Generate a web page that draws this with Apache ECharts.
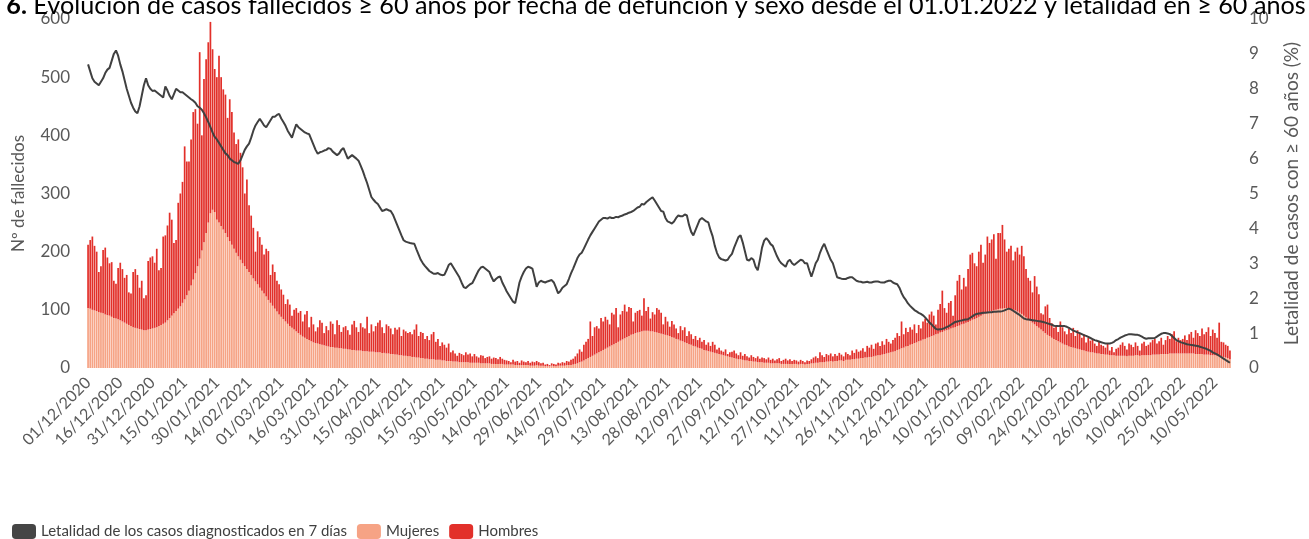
<!DOCTYPE html>
<html>
<head>
<meta charset="utf-8">
<script src="https://cdn.jsdelivr.net/npm/echarts@6/dist/echarts.min.js"></script>
<style>
  html, body { margin: 0; padding: 0; background: #fff; }
  #chart { width: 1309px; height: 539px; }
</style>
</head>
<body>
<div id="chart"></div>
<script>
// daily deaths >= 60 years, women (bottom of the stack)
var mujeres = [
  103,102,100,99,98,96,95,94,92,91,90,88,86,85,84,
  82,80,78,76,74,72,70,69,68,67,66,65,65,66,67,
  68,69,70,72,74,76,78,82,86,90,94,98,102,106,112,
  118,125,133,142,152,163,175,188,202,216,232,250,266,272,268,
  255,250,244,238,232,225,218,212,205,198,192,186,180,175,170,
  165,160,154,149,144,138,133,128,123,117,112,107,102,97,92,
  88,84,80,76,72,69,66,63,60,57,54,52,50,48,46,
  44,43,42,41,40,39,38,37,36,36,35,35,34,34,33,
  33,32,32,31,31,30,30,30,29,29,29,28,28,28,27,
  27,27,26,26,25,25,24,24,23,23,22,22,21,21,20,
  20,19,19,18,18,17,17,16,16,15,15,15,14,14,14,
  13,13,12,12,12,11,11,11,10,10,10,10,10,9,9,
  9,9,9,8,8,8,8,8,7,7,7,7,7,7,6,
  6,6,6,6,5,5,5,5,5,5,5,4,4,4,5,
  4,4,4,3,3,3,4,3,3,4,4,4,4,5,5,
  5,6,7,8,10,11,13,15,17,19,21,23,25,27,29,
  31,33,35,37,39,41,43,45,47,49,51,53,55,57,58,
  60,61,62,63,64,64,64,63,63,62,61,60,59,58,57,
  56,55,53,52,50,49,47,46,44,43,41,40,38,37,35,
  34,33,31,30,29,28,27,26,25,24,23,22,21,20,19,
  18,17,16,15,15,14,13,13,12,12,11,11,10,10,10,
  9,9,9,8,8,8,8,8,7,7,7,7,7,7,7,
  7,6,7,7,6,7,7,8,8,9,9,10,10,10,11,
  11,12,11,12,12,13,13,12,14,14,14,15,15,16,16,
  17,17,18,18,19,19,20,21,22,22,23,24,25,26,27,
  28,29,31,32,34,35,37,38,40,41,43,44,46,47,49,
  50,52,53,55,56,58,59,61,62,64,65,66,68,69,70,
  72,73,75,76,78,79,81,83,84,86,88,90,92,94,96,
  97,98,99,100,101,102,102,103,103,102,101,100,99,97,95,
  93,90,87,84,81,78,75,72,69,66,63,60,57,55,52,
  50,48,46,44,42,40,39,37,36,35,34,33,32,31,30,
  29,28,27,27,26,25,25,24,24,23,23,22,22,22,21,
  21,21,21,21,20,21,21,21,22,22,21,22,22,22,22,
  22,23,23,23,23,24,24,24,24,25,25,25,25,25,25,
  25,25,25,25,25,25,24,24,24,24,23,23,23,22,22,
  22,21,20,20,19,18,17,15
];

// daily deaths >= 60 years, men (stacked on top)
var hombres = [
  109,118,126,111,102,69,80,109,115,99,90,94,64,60,88,
  99,90,77,84,56,56,95,101,92,71,84,55,60,118,123,
  124,112,135,96,98,150,150,163,181,165,121,122,182,194,208,
  263,230,222,251,288,282,245,355,198,281,299,310,329,276,246,
  245,287,256,241,238,205,244,228,200,187,201,184,165,125,154,
  115,102,87,51,91,87,79,67,82,84,48,71,63,53,52,
  47,42,30,42,37,21,34,40,35,41,26,40,48,22,42,
  31,20,28,41,38,21,34,28,44,40,23,47,40,28,37,
  39,33,25,44,50,40,32,47,41,39,59,32,47,35,45,
  51,55,44,34,50,47,44,34,46,43,48,33,45,42,40,
  42,39,47,57,37,45,43,34,39,33,43,47,31,36,24,
  31,27,23,30,15,19,14,10,16,14,12,17,13,16,11,
  15,11,9,14,13,9,11,12,9,11,10,8,12,9,8,
  7,6,4,8,6,7,4,8,6,5,7,5,7,6,7,
  6,4,5,3,4,2,4,4,3,5,4,6,5,7,6,
  9,10,13,17,22,17,27,30,33,61,34,47,47,41,57,
  49,55,48,38,56,51,60,25,45,49,58,44,50,46,22,
  35,37,38,27,56,34,41,22,33,30,42,40,36,17,31,
  24,16,28,23,18,11,25,19,26,12,22,18,12,18,13,
  18,12,17,10,15,10,18,14,7,11,7,6,11,4,8,
  10,13,9,7,12,7,11,7,6,10,8,6,10,6,8,
  8,6,9,6,8,5,7,9,5,7,9,6,8,5,7,
  6,5,7,5,4,6,5,7,10,11,8,17,12,9,13,
  11,13,9,12,9,13,10,8,13,10,8,15,11,16,12,
  13,17,10,20,16,21,13,21,22,16,23,16,25,19,15,
  20,23,29,23,46,23,32,24,30,25,32,16,28,21,31,
  35,26,39,42,34,17,41,49,71,39,30,46,47,21,55,
  78,87,60,79,62,91,114,115,96,89,112,122,89,101,130,
  118,123,131,88,131,130,144,118,97,103,109,85,101,110,100,
  117,102,83,71,69,52,83,68,58,28,29,46,52,31,25,
  19,24,16,36,28,23,19,31,24,34,21,32,28,21,28,
  15,24,20,23,16,13,20,16,14,12,19,8,14,5,12,
  14,19,23,17,12,21,19,15,22,16,9,20,23,16,18,
  22,25,27,19,23,28,16,24,31,25,33,38,21,27,23,
  25,31,23,33,37,27,41,36,31,44,35,39,47,33,44,
  38,31,58,25,25,22,21,15
];

// 7-day case fatality, % (right axis)
var letalidad = [
  8.7,8.5,8.3,8.2,8.15,8.1,8.2,8.3,8.45,8.55,8.6,8.8,9.0,9.1,8.95,
  8.7,8.5,8.25,8.0,7.8,7.6,7.46,7.35,7.3,7.5,7.8,8.1,8.3,8.1,8.0,
  7.94,7.95,7.9,7.85,7.8,7.75,8.07,7.95,7.8,7.7,7.85,8.0,7.95,7.9,7.9,
  7.85,7.8,7.75,7.7,7.66,7.6,7.5,7.46,7.4,7.3,7.18,7.05,6.9,6.75,6.62,
  6.55,6.45,6.35,6.25,6.15,6.1,6.0,5.95,5.9,5.88,5.85,5.95,6.1,6.25,6.35,
  6.43,6.6,6.8,6.95,7.05,7.14,7.05,6.95,6.9,7.0,7.1,7.2,7.2,7.25,7.28,
  7.15,7.05,6.94,6.8,6.7,6.6,6.8,6.98,6.9,6.85,6.8,6.75,6.72,6.7,6.55,
  6.4,6.25,6.14,6.18,6.2,6.23,6.25,6.3,6.28,6.2,6.15,6.1,6.15,6.25,6.3,
  6.15,6.0,6.05,6.1,6.05,6.0,5.94,5.8,5.65,5.47,5.3,5.1,4.9,4.82,4.75,
  4.7,4.6,4.5,4.52,4.55,4.52,4.5,4.4,4.25,4.1,3.95,3.8,3.66,3.62,3.6,
  3.58,3.57,3.56,3.4,3.25,3.1,3.0,2.92,2.85,2.78,2.74,2.7,2.7,2.72,2.68,
  2.66,2.67,2.8,2.95,3.0,2.9,2.8,2.7,2.6,2.45,2.32,2.29,2.35,2.4,2.43,
  2.55,2.68,2.8,2.88,2.9,2.85,2.8,2.75,2.6,2.48,2.55,2.6,2.62,2.45,2.33,
  2.2,2.1,2.0,1.9,1.86,2.15,2.45,2.62,2.75,2.85,2.9,2.88,2.85,2.6,2.33,
  2.45,2.5,2.47,2.45,2.48,2.5,2.52,2.45,2.3,2.14,2.2,2.3,2.35,2.4,2.55,
  2.71,2.85,3.0,3.15,3.25,3.3,3.42,3.55,3.68,3.8,3.9,4.0,4.1,4.2,4.25,
  4.3,4.3,4.28,4.32,4.3,4.3,4.33,4.32,4.35,4.37,4.4,4.42,4.45,4.47,4.5,
  4.55,4.6,4.62,4.7,4.68,4.75,4.8,4.85,4.89,4.8,4.7,4.6,4.5,4.48,4.3,
  4.2,4.17,4.14,4.2,4.3,4.37,4.35,4.35,4.4,4.37,4.1,3.9,3.8,3.95,4.1,
  4.25,4.3,4.25,4.2,4.17,3.95,3.77,3.5,3.3,3.17,3.12,3.1,3.08,3.1,3.2,
  3.27,3.45,3.6,3.75,3.8,3.6,3.35,3.1,3.08,3.15,3.1,2.9,2.8,3.1,3.45,
  3.65,3.72,3.65,3.55,3.5,3.35,3.2,3.08,3.0,2.95,2.9,3.05,3.1,3.0,2.95,
  3.0,3.05,3.1,3.08,3.0,3.0,2.8,2.62,2.8,3.0,3.1,3.3,3.45,3.56,3.4,
  3.25,3.1,3.0,2.8,2.6,2.58,2.56,2.55,2.55,2.58,2.6,2.6,2.55,2.5,2.48,
  2.47,2.45,2.46,2.47,2.45,2.45,2.47,2.48,2.48,2.46,2.45,2.45,2.48,2.5,2.5,
  2.45,2.42,2.4,2.3,2.15,2.03,1.95,1.85,1.78,1.72,1.66,1.62,1.58,1.55,1.51,
  1.45,1.38,1.3,1.25,1.18,1.12,1.1,1.11,1.12,1.14,1.17,1.2,1.24,1.28,1.32,
  1.33,1.35,1.36,1.38,1.39,1.4,1.44,1.48,1.52,1.55,1.56,1.57,1.58,1.58,1.59,
  1.6,1.6,1.61,1.61,1.62,1.62,1.63,1.65,1.68,1.7,1.68,1.64,1.6,1.56,1.52,
  1.47,1.42,1.4,1.39,1.38,1.37,1.36,1.35,1.34,1.33,1.32,1.3,1.28,1.26,1.24,
  1.21,1.2,1.2,1.21,1.2,1.2,1.18,1.15,1.11,1.07,1.05,1.02,1.0,0.97,0.94,
  0.92,0.89,0.86,0.83,0.8,0.78,0.76,0.74,0.72,0.7,0.7,0.7,0.72,0.75,0.8,
  0.83,0.87,0.9,0.93,0.95,0.97,0.97,0.96,0.95,0.95,0.93,0.9,0.86,0.84,0.85,
  0.85,0.85,0.86,0.9,0.94,0.98,1.0,1.0,0.99,0.97,0.92,0.86,0.8,0.77,0.74,
  0.72,0.7,0.68,0.67,0.66,0.65,0.64,0.63,0.61,0.59,0.57,0.55,0.52,0.49,0.45,
  0.42,0.39,0.35,0.31,0.27,0.23,0.19,0.15
];

// one category per day, starting 01/12/2020
var fechaInicio = Date.UTC(2020, 11, 1);
var fechas = [];
for (var i = 0; i < mujeres.length; i++) {
  var d = new Date(fechaInicio + i * 86400000);
  var dd = ('0' + d.getUTCDate()).slice(-2);
  var mm = ('0' + (d.getUTCMonth() + 1)).slice(-2);
  fechas.push(dd + '/' + mm + '/' + d.getUTCFullYear());
}

var fuente = 'Lato, "Open Sans", sans-serif';
var gris = '#595959';

var chart = echarts.init(document.getElementById('chart'));
var option = {
  animation: false,
  textStyle: { fontFamily: fuente },
  title: {
    text: '{b|Figura 6.} Evolución de casos fallecidos ≥ 60 años por fecha de defunción y sexo desde el 01.01.2022 y letalidad en ≥ 60 años',
    left: -75,
    top: -12,
    textStyle: {
      fontFamily: fuente,
      fontSize: 25.2,
      fontWeight: 'normal',
      color: '#000',
      rich: { b: { fontFamily: fuente, fontSize: 25.2, fontWeight: 'bold', color: '#000' } }
    }
  },
  legend: {
    left: 7,
    top: 519,
    icon: 'roundRect',
    itemWidth: 24,
    itemHeight: 15,
    itemGap: 10,
    textStyle: { fontSize: 15, color: '#404040', fontFamily: fuente },
    data: ['Letalidad de los casos diagnosticados en 7 días', 'Mujeres', 'Hombres']
  },
  grid: { left: 87, right: 70, top: 19, bottom: 171 },
  xAxis: {
    type: 'category',
    data: fechas,
    axisLine: { show: false },
    axisTick: { show: false },
    axisLabel: {
      interval: 14,
      rotate: 45,
      margin: 12,
      fontSize: 16,
      color: gris
    }
  },
  yAxis: [
    {
      type: 'value',
      min: 0,
      max: 600,
      interval: 100,
      name: 'Nº de fallecidos',
      nameLocation: 'middle',
      nameGap: 60,
      nameTextStyle: { fontSize: 17, color: gris },
      splitLine: { show: false },
      axisLabel: { fontSize: 17, color: gris, margin: 17 }
    },
    {
      type: 'value',
      min: 0,
      max: 10,
      interval: 1,
      position: 'right',
      name: 'Letalidad de casos con ≥ 60 años (%)',
      nameLocation: 'middle',
      nameGap: 51,
      nameTextStyle: { fontSize: 19, color: gris },
      splitLine: { show: false },
      axisLabel: { fontSize: 17, color: gris, margin: 18 }
    }
  ],
  series: [
    {
      name: 'Letalidad de los casos diagnosticados en 7 días',
      type: 'line',
      yAxisIndex: 1,
      data: letalidad,
      symbol: 'none',
      z: 5,
      itemStyle: { color: '#454545' },
      lineStyle: { color: '#404040', width: 2 }
    },
    {
      name: 'Mujeres',
      type: 'bar',
      stack: 'sexo',
      data: mujeres,
      barCategoryGap: '20%',
      itemStyle: { color: '#F6A385' }
    },
    {
      name: 'Hombres',
      type: 'bar',
      stack: 'sexo',
      data: hombres,
      barCategoryGap: '20%',
      itemStyle: { color: '#E2302A' }
    }
  ]
};
chart.setOption(option);
</script>
</body>
</html>
